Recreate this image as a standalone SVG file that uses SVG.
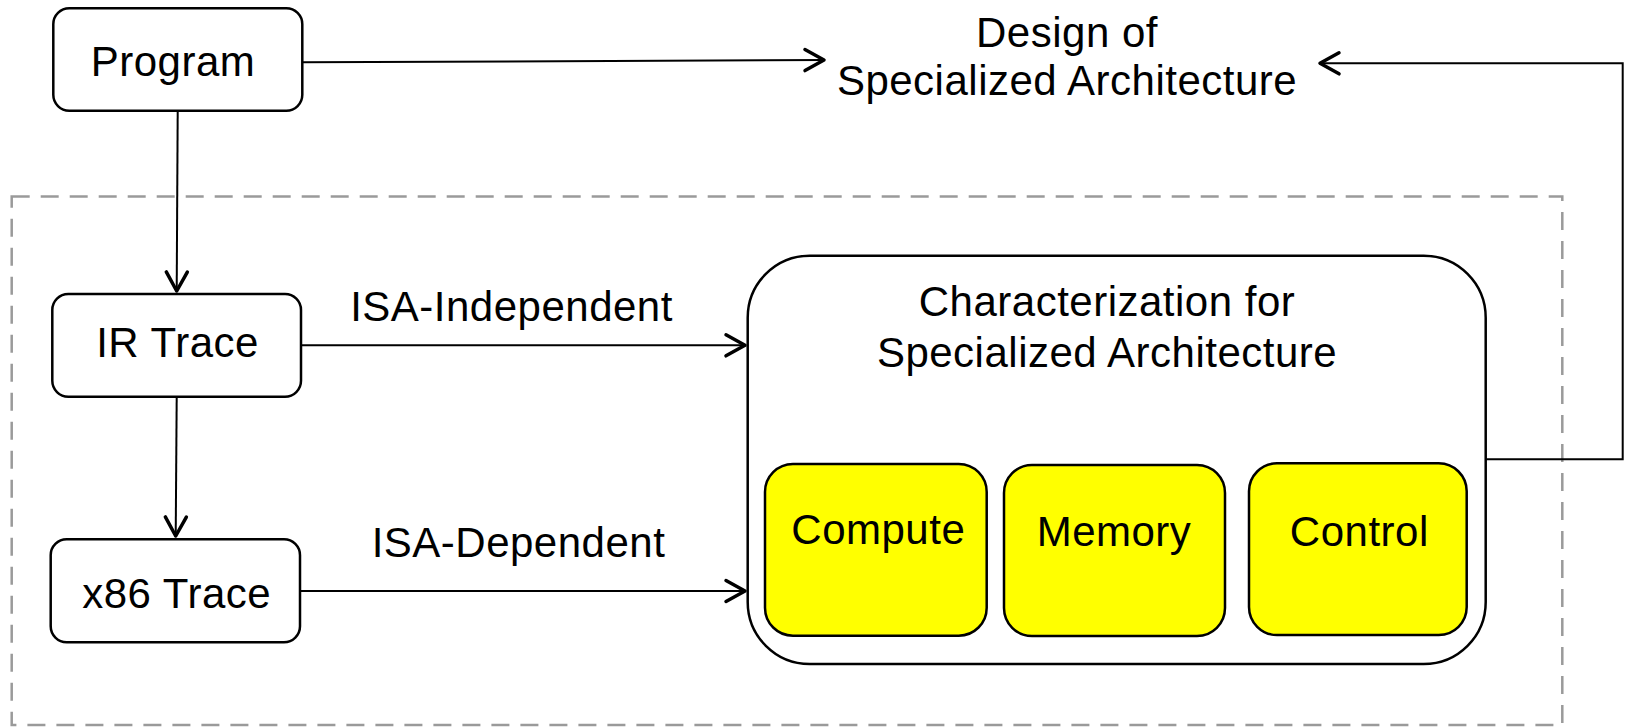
<svg xmlns="http://www.w3.org/2000/svg" width="1628" height="727" viewBox="0 0 1628 727">
  <style>
    .node { fill: #ffffff; stroke: #000000; stroke-width: 2.5; }
    .sub { fill: #ffff00; stroke: #000000; stroke-width: 2.5; }
    .lbl { font-family: "Liberation Sans", Arial, sans-serif; font-size: 42px; letter-spacing: 0.5px; fill: #000000; text-anchor: middle; }
    .conn { fill: none; stroke: #000000; stroke-width: 2; }
    .frame { fill: none; stroke: #9a9a9a; stroke-width: 2.5; stroke-dasharray: 18 11; }
  </style>
  <defs>
    <marker id="arr" markerUnits="userSpaceOnUse" orient="auto" overflow="visible" refX="0" refY="0" markerWidth="30" markerHeight="30">
      <path d="M-20,-10.5 L-1,0 L-20,10.5" fill="none" stroke="#000000" stroke-width="3.5" stroke-linecap="round" stroke-linejoin="round"/>
    </marker>
  </defs>

  <rect id="frame" class="frame" x="11.7" y="196.5" width="1550.6" height="528.5"/>

  <g id="connectors">
    <path class="conn" d="M302,62.3 L825,60" marker-end="url(#arr)"/>
    <path class="conn" d="M177.7,110.7 L176.7,292" marker-end="url(#arr)"/>
    <path class="conn" d="M176.7,396.7 L175.7,537" marker-end="url(#arr)"/>
    <path class="conn" d="M301,345.3 L746,345.3" marker-end="url(#arr)"/>
    <path class="conn" d="M300,591 L746,591" marker-end="url(#arr)"/>
    <path class="conn" d="M1485.7,459.3 L1622.7,459.3 L1622.7,63.3 L1319,63.3" marker-end="url(#arr)"/>
    <text class="lbl" x="511.5" y="320.7">ISA-Independent</text>
    <text class="lbl" x="518.5" y="556.7">ISA-Dependent</text>
  </g>

  <g id="program">
    <rect class="node" x="53.3" y="8.3" width="249" height="102.4" rx="16"/>
    <text class="lbl" x="173" y="76">Program</text>
  </g>

  <g id="ir-trace">
    <rect class="node" x="52.3" y="294" width="248.7" height="102.7" rx="16"/>
    <text class="lbl" x="177.5" y="356.7">IR Trace</text>
  </g>

  <g id="x86-trace">
    <rect class="node" x="50.7" y="539.3" width="249.3" height="103" rx="16"/>
    <text class="lbl" x="176.7" y="607.7">x86 Trace</text>
  </g>

  <g id="design">
    <text class="lbl" x="1067" y="46.7">Design of</text>
    <text class="lbl" x="1067" y="95">Specialized Architecture</text>
  </g>

  <g id="characterization">
    <rect class="node" x="747.7" y="255.7" width="738" height="408.3" rx="62"/>
    <text class="lbl" x="1107" y="316">Characterization for</text>
    <text class="lbl" x="1107" y="366.7">Specialized Architecture</text>
  </g>

  <g id="compute">
    <rect class="sub" x="765" y="464" width="221.7" height="171.7" rx="28"/>
    <text class="lbl" x="878.3" y="544">Compute</text>
  </g>

  <g id="memory">
    <rect class="sub" x="1004" y="465" width="221" height="171" rx="28"/>
    <text class="lbl" x="1114" y="545.5">Memory</text>
  </g>

  <g id="control">
    <rect class="sub" x="1249" y="463.3" width="217.7" height="171.7" rx="28"/>
    <text class="lbl" x="1359.3" y="546">Control</text>
  </g>
</svg>
